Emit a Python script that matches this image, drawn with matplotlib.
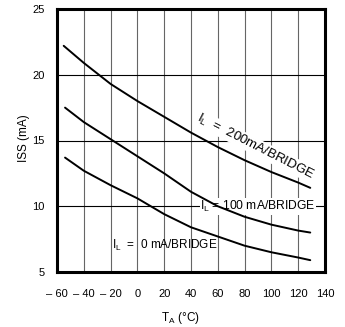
import matplotlib
matplotlib.use("Agg")
import matplotlib.pyplot as plt
import numpy as np

plt.rcParams['font.family'] = ['Liberation Sans', 'DejaVu Sans']
plt.rcParams['mathtext.fontset'] = 'custom'
plt.rcParams['mathtext.rm'] = 'Liberation Sans'

# Supply current vs. ambient temperature for three bridge loads
temp_200 = [-55, -40, -20, 0, 20, 40, 60, 80, 100, 120, 129]
iss_200 = [22.2, 20.9, 19.3, 18.0, 16.8, 15.6, 14.5, 13.5, 12.6, 11.8, 11.4]

temp_100 = [-54, -40, -20, 0, 20, 40, 60, 80, 100, 120, 129]
iss_100 = [17.5, 16.4, 15.1, 13.8, 12.5, 11.1, 10.0, 9.2, 8.6, 8.15, 8.0]

temp_0 = [-54, -40, -20, 0, 20, 40, 60, 80, 100, 120, 129]
iss_0 = [13.7, 12.7, 11.6, 10.6, 9.4, 8.4, 7.7, 7.0, 6.5, 6.1, 5.9]

x_ticks = [-60, -40, -20, 0, 20, 40, 60, 80, 100, 120, 140]
x_tick_labels = ['– 60', '– 40', '– 20', '0', '20', '40', '60', '80', '100', '120', '140']
y_ticks = [5, 10, 15, 20, 25]

fig = plt.figure(figsize=(3.45, 3.27), dpi=100)
ax = fig.add_axes([57 / 345, 1 - 272 / 327, 268 / 345, 263 / 327])

ax.set_xlim(-60, 140)
ax.set_ylim(5, 25)

# grid: grey verticals, black horizontals
for t in x_ticks[1:-1]:
    ax.axvline(t, color='#666666', lw=0.8, zorder=1)
for v in y_ticks[1:-1]:
    ax.axhline(v, color='black', lw=0.8, zorder=1)

for tx, iy in [(temp_200, iss_200), (temp_100, iss_100), (temp_0, iss_0)]:
    ax.plot(tx, iy, color='black', lw=1.4, zorder=4, solid_capstyle='round')

box = dict(facecolor='white', edgecolor='none', pad=0.5)
ax.text(88, 14.55, r'I$_\mathregular{L}$  =  200mA/BRIDGE', rotation=-27,
        rotation_mode='anchor', ha='center', va='center', fontsize=9.5,
        zorder=3, bbox=box)
ax.text(90, 10.0, r'I$_\mathregular{L}$ = 100 mA/BRIDGE', ha='center',
        va='center', fontsize=8.7, zorder=3, bbox=box)
ax.text(-19, 7.05, r'I$_\mathregular{L}$  =  0 mA/BRIDGE', ha='left',
        va='center', fontsize=8.5, zorder=3)

ax.set_xticks(x_ticks)
ax.set_xticklabels(x_tick_labels)
ax.set_yticks(y_ticks)
ax.tick_params(axis='x', length=0, pad=12, labelsize=8)
ax.tick_params(axis='y', length=0, pad=9, labelsize=8)

for s in ax.spines.values():
    s.set_linewidth(2.2)
    s.set_zorder(5)

ax.set_xlabel(r'T$_\mathregular{A}$ (°C)', fontsize=8.5, va='center')
ax.xaxis.set_label_coords(0.46, -0.175)
ax.set_ylabel('ISS (mA)', fontsize=8.5, va='center')
ax.yaxis.set_label_coords(-0.125, 0.51)

fig.savefig('out.png', dpi=100)
